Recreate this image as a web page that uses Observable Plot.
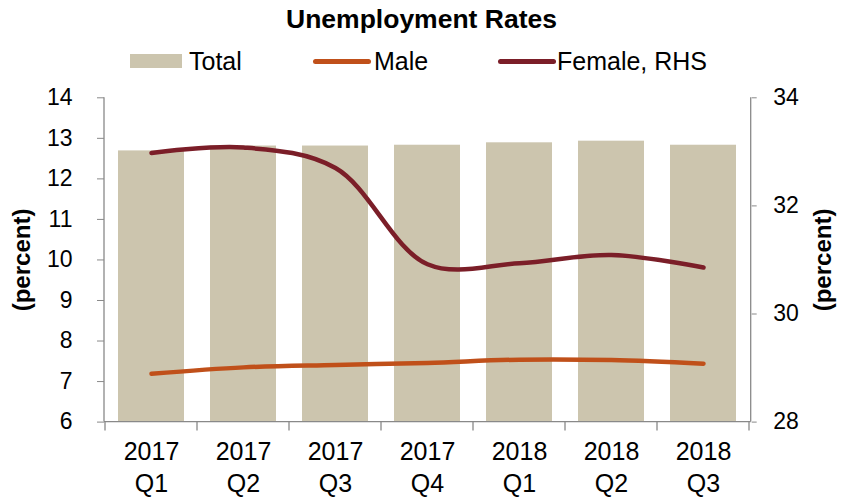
<!DOCTYPE html>
<html><head><meta charset="utf-8">
<script src="https://cdn.jsdelivr.net/npm/d3@7"></script>
<script src="https://cdn.jsdelivr.net/npm/@observablehq/plot@0.6"></script>
<style>
body{margin:0;background:#fff;font-family:"Liberation Sans",Arial,sans-serif;color:#000;}
#wrap{position:relative;width:843px;height:499px;overflow:hidden;}
#head{position:relative;height:80px;}
.abs{position:absolute;white-space:nowrap;}
.leg{font-size:25px;line-height:25px;top:48.8px;}
</style></head><body>
<div id="wrap">
  <div id="head">
    <div class="abs" style="left:0;width:843px;top:6px;text-align:center;font-weight:bold;font-size:26.5px;line-height:26px;">Unemployment Rates</div>
    <div class="abs" style="left:130px;top:54px;width:52px;height:14px;background:#CCC5AE;"></div>
    <div class="abs leg" style="left:189px;">Total</div>
    <div class="abs" style="left:313px;top:58.5px;width:58px;height:5px;border-radius:2.5px;background:#C0501A;"></div>
    <div class="abs leg" style="left:374px;">Male</div>
    <div class="abs" style="left:498px;top:58.5px;width:58px;height:5px;border-radius:2.5px;background:#7B1E28;"></div>
    <div class="abs leg" style="left:557px;">Female, RHS</div>
  </div>
  <div id="chart"></div>
</div>
<script>
// Data
const quarters = ["2017 Q1","2017 Q2","2017 Q3","2017 Q4","2018 Q1","2018 Q2","2018 Q3"];
const total = [12.69, 12.81, 12.81, 12.83, 12.89, 12.93, 12.83];
const male = [7.19, 7.35, 7.41, 7.46, 7.54, 7.53, 7.44];
const femaleRHS = [32.98, 33.08, 32.70, 30.92, 30.94, 31.09, 30.86];
const leftTicks = [6,7,8,9,10,11,12,13,14];
const rightTicks = [28,30,32,34];

// Right-hand scale mapping onto left scale (28..34 -> 6..14)
const toLeft = v => 6 + (v - 28) * (8 / 6);
const fromLeft = v => 28 + (v - 6) * (6 / 8);

const rows = quarters.map((q, i) => ({q, base: 6, total: total[i], male: male[i], female: toLeft(femaleRHS[i])}));

const axisColor = "#898989";
const chart = Plot.plot({
  width: 843,
  height: 419,
  marginTop: 17.3,
  marginBottom: 77.4,
  marginLeft: 104,
  marginRight: 92.3,
  style: {fontFamily: "'Liberation Sans', Arial, sans-serif", fontSize: "23px", color: "#000", background: "transparent", overflow: "visible"},
  x: {domain: quarters, paddingInner: 0.285, paddingOuter: 0.1425, axis: null, label: null},
  y: {domain: [6, 14], axis: null, label: null},
  marks: [
    Plot.barY(rows, {x: "q", y1: "base", y2: "total", fill: "#CCC5AE"}),
    Plot.lineY(rows, {x: "q", y: "male", stroke: "#C0501A", strokeWidth: 4.5, curve: "catmull-rom", strokeLinecap: "round"}),
    Plot.lineY(rows, {x: "q", y: "female", stroke: "#7B1E28", strokeWidth: 4.5, curve: "catmull-rom", strokeLinecap: "round"}),
    Plot.axisY({anchor: "left", ticks: leftTicks, tickSize: 7, tickPadding: 25, fontSize: 23, stroke: axisColor, fill: "#000", label: null}),
    Plot.axisY({anchor: "right", ticks: rightTicks.map(toLeft), tickFormat: v => String(Math.round(fromLeft(v))), tickSize: 5, tickPadding: 17, fontSize: 23, stroke: axisColor, fill: "#000", label: null}),
    Plot.axisX({anchor: "bottom", tickSize: 0, tickPadding: 16, fontSize: 25, lineHeight: 1.25, tickFormat: d => d.replace(" ", "\n"), fill: "#000", label: null}),
    Plot.text(["(percent)"], {text: d => d, frameAnchor: "left", textAnchor: "middle", rotate: -90, dx: -82, fontSize: 24, fontWeight: "bold", fill: "#000"}),
    Plot.text(["(percent)"], {text: d => d, frameAnchor: "right", textAnchor: "middle", rotate: -90, dx: 72.3, fontSize: 24, fontWeight: "bold", fill: "#000"})
  ]
});
document.getElementById("chart").appendChild(chart);

// Axis lines and category-boundary ticks, from Plot's own scales
const xs = chart.scale("x"), ys = chart.scale("y");
const svg = d3.select(chart);
const x0 = xs.range[0], x1 = xs.range[1];
const yTop = ys.apply(14), yBot = ys.apply(6);
const g = svg.append("g").attr("stroke", axisColor).attr("stroke-width", 1.3).attr("fill", "none");
g.append("line").attr("x1", x0).attr("x2", x0).attr("y1", yTop).attr("y2", yBot);
g.append("line").attr("x1", x1).attr("x2", x1).attr("y1", yTop).attr("y2", yBot);
g.append("line").attr("x1", x0).attr("x2", x1).attr("y1", yBot).attr("y2", yBot);
const gap = (xs.step - xs.bandwidth) / 2;
const bounds = quarters.map(q => xs.apply(q) - gap).concat([xs.apply(quarters[quarters.length - 1]) + xs.bandwidth + gap]);
bounds.forEach(b => g.append("line").attr("x1", b).attr("x2", b).attr("y1", yBot).attr("y2", yBot + 9));
</script>
</body></html>
